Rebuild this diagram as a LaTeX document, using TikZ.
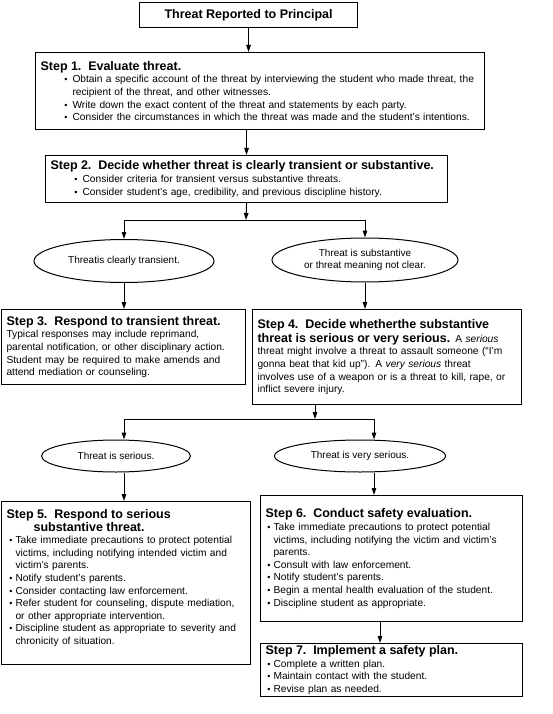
\documentclass[tikz,border=0pt]{standalone}
\usepackage{fontspec}
\setmainfont{Liberation Sans}
\usepackage{enumitem}
\usetikzlibrary{shapes.geometric,arrows.meta}

\setlist[itemize]{label={\small\textbullet},nosep,leftmargin=32pt,labelsep=5pt}
\newcommand{\stephead}[1]{{\fontsize{12.5}{14}\selectfont\bfseries #1}\par}

\begin{document}
\begin{tikzpicture}[x=1pt,y=-1pt,
  stepbox/.style={draw,line width=1.1pt,anchor=north west,align=left,inner xsep=5pt,inner ysep=2pt,
    font=\fontsize{10.2}{12.6}\selectfont},
  choice/.style={draw,ellipse,line width=1pt,inner sep=0pt,align=center,font=\fontsize{10}{12}\selectfont},
  flow/.style={line width=1pt,-{Triangle[length=7pt,width=4.5pt]}}]
  \useasboundingbox (0,0) rectangle (553,714);

  \node[draw,line width=1.1pt,anchor=north west,minimum width=218pt,minimum height=25pt,
    font=\fontsize{12.5}{14}\selectfont\bfseries] (top) at (139,2) {Threat Reported to Principal};

  \node[stepbox,text width=439pt,minimum height=77pt] (s1) at (35,52) {\stephead{Step 1.\ \ Evaluate threat.}
    \begin{itemize}
      \item Obtain a specific account of the threat by interviewing the student who made threat, the\\ recipient of the threat, and other witnesses.
      \item Write down the exact content of the threat and statements by each party.
      \item Consider the circumstances in which the threat was made and the student's intentions.
    \end{itemize}};

  \node[stepbox,text width=392pt,minimum height=47pt] (s2) at (45,155) {\stephead{Step 2.\ \ Decide whether threat is clearly transient or substantive.}
    \begin{itemize}
      \item Consider criteria for transient versus substantive threats.
      \item Consider student's age, credibility, and previous discipline history.
    \end{itemize}};

  % embranchement 1
  \coordinate (j1) at (246,220);
  \coordinate (j1l) at (124,220);
  \coordinate (j1r) at (365,220);

  \node[choice,minimum width=180pt,minimum height=43pt] (e1) at (124,261) {Threatis clearly transient.};
  \node[choice,minimum width=186pt,minimum height=44pt] (e2) at (365,260) {Threat is substantive\\or threat meaning not clear.};

  \node[stepbox,text width=234pt,minimum height=75pt] (s3) at (1,309) {\stephead{Step 3.\ \ Respond to transient threat.}
    Typical responses may include reprimand,\\ parental notification, or other disciplinary action.\\
    Student may be required to make amends and\\ attend mediation or counseling.};

  \node[stepbox,text width=259pt,minimum height=95pt] (s4) at (252,309) {{\fontsize{12.5}{14}\selectfont\bfseries Step 4.\ \ Decide whetherthe substantive\\[1.5pt]
    threat is serious or very serious.} A \textit{serious}\\ threat might involve a threat to assault someone (``I'm\\
    gonna beat that kid up''). A \textit{very serious} threat\\ involves use of a weapon or is a threat to kill, rape, or\\ inflict severe injury.};

  % embranchement 2
  \coordinate (j2) at (315,419);
  \coordinate (j2l) at (124,419);
  \coordinate (j2r) at (374,419);

  \node[choice,minimum width=149pt,minimum height=32pt] (e3) at (116,456) {Threat is serious.};
  \node[choice,minimum width=171pt,minimum height=32pt] (e4) at (360,456) {Threat is very serious.};

  \node[stepbox,text width=239pt,minimum height=163pt] (s5) at (1,501) {\stephead{Step 5.\ \ Respond to serious\\\hspace*{27pt}substantive threat.}
    \begin{itemize}[leftmargin=9pt,labelsep=3pt]
      \item Take immediate precautions to protect potential\\ victims, including notifying intended victim and\\ victim's parents.
      \item Notify student's parents.
      \item Consider contacting law enforcement.
      \item Refer student for counseling, dispute mediation,\\ or other appropriate intervention.
      \item Discipline student as appropriate to severity and\\ chronicity of situation.
    \end{itemize}\par\vspace{10pt}\hrule height 0pt};

  \node[stepbox,text width=252pt,minimum height=126pt] (s6) at (260,495) {\stephead{Step 6.\ \ Conduct safety evaluation.}
    \begin{itemize}[leftmargin=8pt,labelsep=3pt]
      \item Take immediate precautions to protect potential\\ victims, including notifying the victim and victim's\\ parents.
      \item Consult with law enforcement.
      \item Notify student's parents.
      \item Begin a mental health evaluation of the student.
      \item Discipline student as appropriate.
    \end{itemize}};

  \node[stepbox,text width=252pt,minimum height=53pt] (s7) at (260,643) {\stephead{Step 7.\ \ Implement a safety plan.}
    \begin{itemize}[leftmargin=8pt,labelsep=3pt]
      \item Complete a written plan.
      \item Maintain contact with the student.
      \item Revise plan as needed.
    \end{itemize}};
  \coordinate (c6) at (380,0);

  \draw[flow] (top.south) -- (top.south |- s1.north);
  \draw[flow] (s2.north |- s1.south) -- (s2.north);
  \draw[flow] (s2.south) -- (j1);
  \draw[line width=1pt] (j1l) -- (j1r);
  \draw[flow] (j1l) -- (e1.north);
  \draw[flow] (j1r) -- (e2.north);
  \draw[flow] (e1.south) -- (e1.south |- s3.north);
  \draw[flow] (e2.south) -- (e2.south |- s4.north);
  \draw[flow] (j2 |- s4.south) -- (j2);
  \draw[line width=1pt] (j2l) -- (j2r);
  \draw[flow] (j2l) -- (j2l |- e3.north);
  \draw[flow] (j2r) -- (j2r |- e4.north);
  \draw[flow] (j2l |- e3.south) -- (j2l |- s5.north);
  \draw[flow] (j2r |- e4.south) -- (j2r |- s6.north);
  \draw[flow] (c6 |- s6.south) -- (c6 |- s7.north);
\end{tikzpicture}
\end{document}
